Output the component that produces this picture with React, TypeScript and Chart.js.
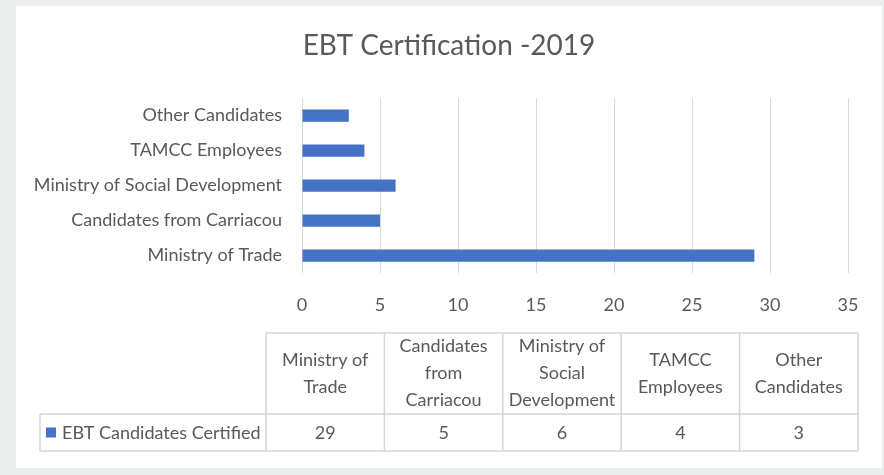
import React, { useEffect, useRef } from "react";
import { Chart, registerables } from "chart.js";

Chart.register(...registerables);

const categories = [
  "Ministry of Trade",
  "Candidates from Carriacou",
  "Ministry of Social Development",
  "TAMCC Employees",
  "Other Candidates",
];
const values = [29, 5, 6, 4, 3];
const seriesName = "EBT Candidates Certified";
const tableHeaders = [
  ["Ministry of", "Trade"],
  ["Candidates", "from", "Carriacou"],
  ["Ministry of", "Social", "Development"],
  ["TAMCC", "Employees"],
  ["Other", "Candidates"],
];
const titleText = "EBT Certification -2019";
const xMax = 35;
const xStep = 5;

const FONT = 'Lato, "Noto Sans", sans-serif';
const TEXT = "#595959";
const GRID = "#d9d9d9";
const BAR = "#4472C4";

const titlePlugin = {
  id: "centeredTitle",
  afterDraw(chart: any) {
    const { ctx, width } = chart;
    ctx.save();
    ctx.fillStyle = TEXT;
    ctx.font = `28px ${FONT}`;
    ctx.textAlign = "center";
    ctx.textBaseline = "middle";
    ctx.fillText(titleText, width / 2, 40);
    ctx.restore();
  },
};

const tablePlugin = {
  id: "dataTable",
  afterDraw(chart: any) {
    const { ctx, chartArea } = chart;
    const left = chartArea.left - 36;
    const right = chartArea.right + 10;
    const colW = (right - left) / categories.length;
    const top = chartArea.bottom + 60;
    const mid = top + 81;
    const bottom = mid + 37;
    const legendLeft = chartArea.left - 262;

    ctx.save();
    ctx.strokeStyle = "#d6d6d6";
    ctx.lineWidth = 1.5;
    ctx.beginPath();
    ctx.moveTo(left, top);
    ctx.lineTo(right, top);
    ctx.moveTo(legendLeft, mid);
    ctx.lineTo(right, mid);
    ctx.moveTo(legendLeft, bottom);
    ctx.lineTo(right, bottom);
    ctx.moveTo(legendLeft, mid);
    ctx.lineTo(legendLeft, bottom);
    for (let i = 0; i <= categories.length; i++) {
      const x = left + i * colW;
      ctx.moveTo(x, top);
      ctx.lineTo(x, bottom);
    }
    ctx.stroke();

    ctx.fillStyle = TEXT;
    ctx.textAlign = "center";
    ctx.textBaseline = "middle";
    ctx.font = `18px ${FONT}`;
    const lineH = 27;
    tableHeaders.forEach((lines, i) => {
      const cx = left + (i + 0.5) * colW;
      const cy = (top + mid) / 2;
      const start = cy - ((lines.length - 1) * lineH) / 2;
      lines.forEach((ln, j) => ctx.fillText(ln, cx, start + j * lineH));
    });
    values.forEach((v, i) => {
      const cx = left + (i + 0.5) * colW;
      ctx.fillText(String(v), cx, (mid + bottom) / 2 + 1);
    });

    const cy = (mid + bottom) / 2;
    ctx.fillStyle = BAR;
    ctx.fillRect(legendLeft + 6, cy - 5, 10, 10);
    ctx.fillStyle = TEXT;
    ctx.textAlign = "left";
    ctx.fillText(seriesName, legendLeft + 22, cy + 1);
    ctx.restore();
  },
};

export default function App() {
  const ref = useRef<HTMLCanvasElement | null>(null);

  useEffect(() => {
    if (!ref.current) return;
    const chart = new Chart(ref.current, {
      type: "bar",
      data: {
        labels: categories,
        datasets: [
          {
            label: seriesName,
            data: values,
            backgroundColor: BAR,
            barPercentage: 0.35,
            categoryPercentage: 1,
          },
        ],
      },
      options: {
        indexAxis: "y",
        responsive: false,
        animation: false,
        devicePixelRatio: 1,
        layout: { padding: { top: 92, left: 0, right: 34, bottom: 145 } },
        plugins: {
          legend: { display: false },
          tooltip: { enabled: false },
          title: { display: false },
        },
        scales: {
          x: {
            min: 0,
            max: xMax,
            ticks: {
              stepSize: xStep,
              color: TEXT,
              font: { family: FONT, size: 18 },
              padding: 21,
            },
            grid: { color: GRID, lineWidth: 1, drawTicks: false },
            border: { display: false },
            afterFit: (s: any) => {
              s.height = 50;
            },
          },
          y: {
            reverse: true,
            ticks: {
              color: TEXT,
              font: { family: FONT, size: 18 },
              padding: 20,
            },
            grid: { display: false, drawTicks: false },
            border: { display: false },
            afterFit: (s: any) => {
              s.width = 286;
            },
          },
        },
      },
      plugins: [titlePlugin, tablePlugin],
    });
    return () => chart.destroy();
  }, []);

  return (
    <div
      style={{
        position: "fixed",
        left: 0,
        top: 0,
        width: 884,
        height: 475,
        background: "#eceeed",
      }}
    >
      <div
        style={{
          position: "absolute",
          left: 16,
          top: 6,
          width: 866,
          height: 462,
          background: "#ffffff",
        }}
      >
        <canvas ref={ref} width={866} height={462} style={{ display: "block" }} />
      </div>
    </div>
  );
}
